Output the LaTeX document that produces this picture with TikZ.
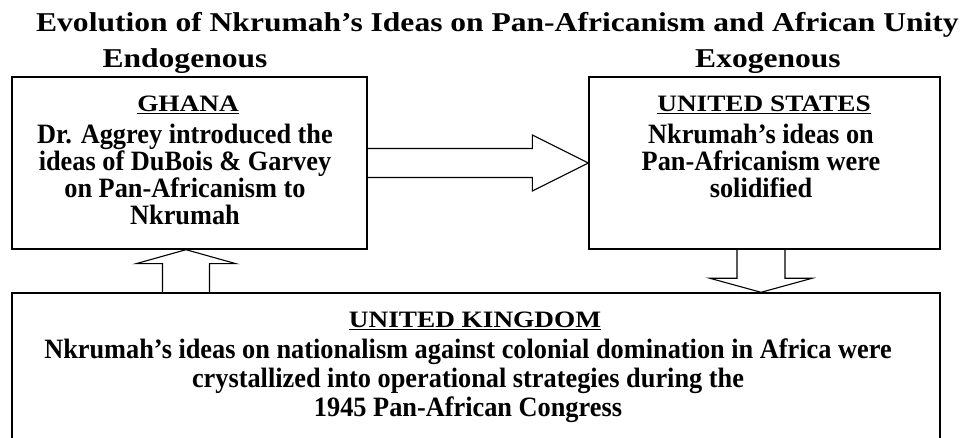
\documentclass[tikz,border=0pt]{standalone}
\usepackage{fontspec}
\setmainfont{Liberation Serif}
\newfontfamily\titlefont{Liberation Serif}[FakeStretch=1.16]
\newfontfamily\headfont{Liberation Serif}[FakeStretch=1.16]
\newfontfamily\bodyfont{Liberation Serif}[FakeStretch=0.94]
\usetikzlibrary{calc}
\begin{document}
\begin{tikzpicture}[x=1pt,y=-1pt,
  box/.style={draw, line width=1.4pt, inner sep=0pt},
  blockarrow/.style={draw, line width=1.1pt, line join=miter},
  body/.style={font=\bodyfont\bfseries\fontsize{28}{26.8}\selectfont, align=center, inner sep=0pt, anchor=north},
  boxhead/.style={font=\headfont\bfseries\fontsize{23.5}{26}\selectfont, inner sep=0pt, anchor=base},
  head/.style={font=\titlefont\bfseries\fontsize{27.2}{30}\selectfont, inner sep=0pt, anchor=base}]
\useasboundingbox (0,0) rectangle (974,438);
% headings
\node[head] (title) at (497.5,31.7) {Evolution of Nkrumah’s Ideas on Pan-Africanism and African Unity};
\node[head] (endo) at (185,68) {Endogenous};
\node[head] (exo) at (768,68) {Exogenous};
% boxes
\node[box, minimum width=355pt, minimum height=172pt] (ghana) at (189.5,163) {};
\node[box, minimum width=351pt, minimum height=172pt] (usa) at (764.5,163) {};
\node[box, minimum width=928pt, minimum height=150pt] (uk) at (476,368) {};
% texts
\node[boxhead] (ghanahead) at (188,112) {\underline{GHANA}};
\node[body] (ghanatxt) at (185,124) {Dr. Aggrey introduced the\\ideas of DuBois \& Garvey\\on Pan-Africanism to\\Nkrumah};
\node[boxhead] (usahead) at (764,112) {\underline{UNITED STATES}};
\node[body] (usatxt) at (761,124) {Nkrumah’s ideas on\\Pan-Africanism were\\solidified};
\node[boxhead] (ukhead) at (475,327.5) {\underline{UNITED KINGDOM}};
\node[body, font=\bodyfont\bfseries\fontsize{28}{29}\selectfont] (uktxt) at (468,339) {Nkrumah’s ideas on nationalism against colonial domination in Africa were\\crystallized into operational strategies during the\\1945 Pan-African Congress};
% block arrows
\draw[blockarrow] ($(ghana.east)+(0,-14.5)$) -- ($(usa.west)+(-56,-14.5)$) -- ($(usa.west)+(-56,-28)$) -- (usa.west) -- ($(usa.west)+(-56,28)$) -- ($(usa.west)+(-56,14.5)$) -- ($(ghana.east)+(0,14.5)$);
\coordinate (upx) at (186,0);
\draw[blockarrow] ($(uk.north -| upx)+(-23.5,0)$) -- ($(ghana.south -| upx)+(-23.5,14)$) -- ($(ghana.south -| upx)+(-50,14)$) -- (ghana.south -| upx) -- ($(ghana.south -| upx)+(50,14)$) -- ($(ghana.south -| upx)+(23.5,14)$) -- ($(uk.north -| upx)+(23.5,0)$);
\coordinate (dnx) at (761,0);
\draw[blockarrow] ($(usa.south -| dnx)+(-24,0)$) -- ($(uk.north -| dnx)+(-24,-14)$) -- ($(uk.north -| dnx)+(-51,-14)$) -- (uk.north -| dnx) -- ($(uk.north -| dnx)+(51,-14)$) -- ($(uk.north -| dnx)+(24,-14)$) -- ($(usa.south -| dnx)+(24,0)$);
\end{tikzpicture}
\end{document}
